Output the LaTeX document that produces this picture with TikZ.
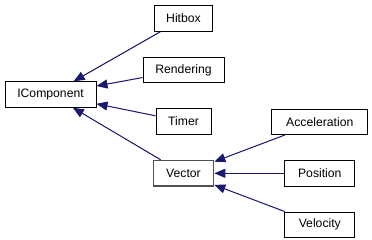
\documentclass[tikz,border=0pt]{standalone}
\usepackage{fontspec}
\setmainfont{Liberation Sans}
\usepackage{tikz}
\usetikzlibrary{arrows.meta,positioning}
\definecolor{edgeblue}{RGB}{25,25,112}
\definecolor{dgray}{RGB}{80,80,80}

\begin{document}
\begin{tikzpicture}[x=1pt,y=-1pt,>={Triangle[length=11pt,width=9pt]},node distance=25pt,every node/.style={font=\fontsize{12.2}{14}\selectfont}]
\tikzstyle{cls}=[draw,line width=1pt,fill=white,inner sep=0pt,minimum height=25.5pt]
\tikzstyle{edge}=[draw=edgeblue,fill=edgeblue,line width=1pt]
\useasboundingbox (0,0) rectangle (372,240);
% base class on the left
\node[cls,minimum width=91pt] (icomp) at (50.5,94.5) {IComponent};
% derived components
\node[cls,minimum width=58pt] (hitbox) at (183.5,18.5) {Hitbox};
\node[cls,minimum width=81pt,below=of hitbox] (render) {Rendering};
\node[cls,minimum width=55pt,below=of render] (timer) {Timer};
\node[cls,minimum width=60pt,below=of timer,draw=dgray,line width=1.6pt] (vec) {Vector};
% vector kinds
\node[cls,minimum width=70pt,right=70pt of vec] (pos) {Position};
\node[cls,minimum width=96pt,above=of pos] (accel) {Acceleration};
\node[cls,minimum width=70pt,below=of pos] (veloc) {Velocity};
\draw[->,edge] (hitbox)--(icomp);\draw[->,edge] (render)--(icomp);
\draw[->,edge] (timer)--(icomp);\draw[->,edge] (vec)--(icomp);
\draw[->,edge] (accel)--(vec);\draw[->,edge] (pos)--(vec);
\draw[->,edge] (veloc)--(vec);
\end{tikzpicture}
\end{document}
